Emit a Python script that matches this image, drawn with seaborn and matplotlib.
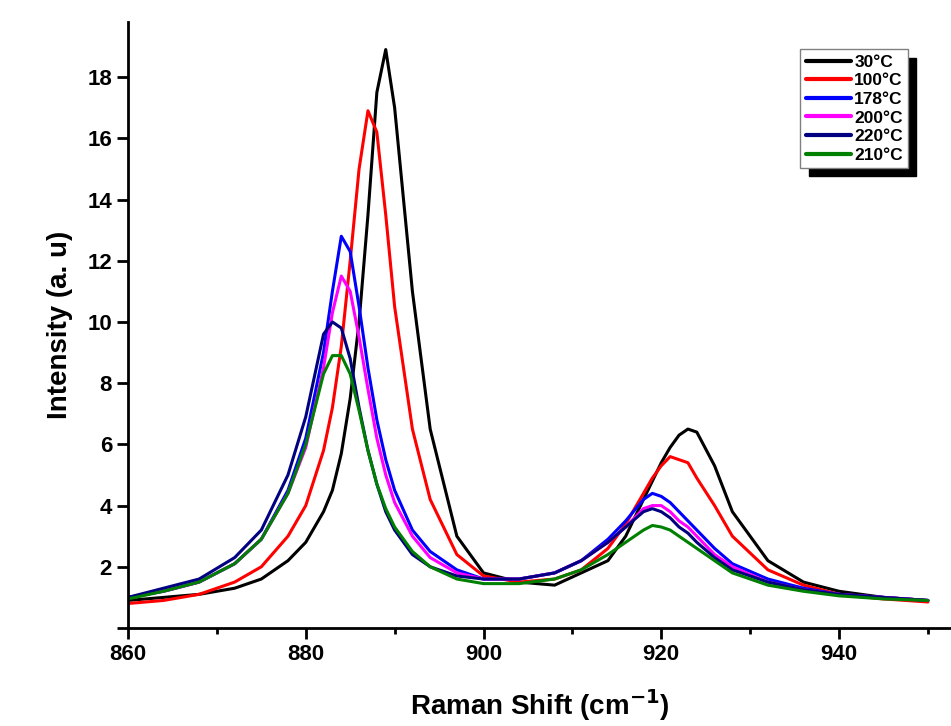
import numpy as np
import pandas as pd
import matplotlib
matplotlib.use("Agg")
import matplotlib.pyplot as plt
import seaborn as sns
from matplotlib.ticker import MultipleLocator

# Raman shift grid (cm^-1)
shift = [860, 864, 868, 872, 875, 878, 880, 882, 883, 884, 885, 886, 887, 888, 889, 890,
         892, 894, 897, 900, 904, 908, 911, 914, 916, 918, 919, 920, 921, 922, 923, 924,
         926, 928, 932, 936, 940, 945, 950]

# intensities
t30 = [0.9, 1.0, 1.1, 1.3, 1.6, 2.2, 2.8, 3.8, 4.5, 5.7, 7.5, 10, 13.5, 17.5, 18.9, 17,
       11, 6.5, 3, 1.8, 1.5, 1.4, 1.8, 2.2, 3, 4.2, 4.8, 5.4, 5.9, 6.3, 6.5, 6.4,
       5.3, 3.8, 2.2, 1.5, 1.2, 1.0, 0.9]
t100 = [0.8, 0.9, 1.1, 1.5, 2.0, 3.0, 4.0, 5.8, 7.2, 9.2, 12, 15, 16.9, 16.2, 13.5, 10.5,
        6.5, 4.2, 2.4, 1.7, 1.5, 1.6, 1.9, 2.6, 3.4, 4.4, 4.9, 5.3, 5.6, 5.5, 5.4, 4.9,
        4.0, 3.0, 1.9, 1.4, 1.1, 0.95, 0.85]
t178 = [1.0, 1.2, 1.5, 2.1, 2.9, 4.5, 6.2, 9.0, 11.0, 12.8, 12.3, 10.5, 8.5, 6.8, 5.5, 4.5,
        3.2, 2.5, 1.9, 1.6, 1.6, 1.8, 2.2, 2.9, 3.5, 4.2, 4.4, 4.3, 4.1, 3.8, 3.5, 3.2,
        2.6, 2.1, 1.6, 1.3, 1.1, 1.0, 0.9]
t200 = [1.0, 1.2, 1.5, 2.1, 2.9, 4.4, 5.9, 8.5, 10.3, 11.5, 11.0, 9.5, 7.8, 6.2, 5.0, 4.1,
        3.0, 2.3, 1.8, 1.6, 1.6, 1.8, 2.2, 2.8, 3.3, 3.9, 4.0, 4.0, 3.8, 3.5, 3.3, 3.0,
        2.4, 2.0, 1.5, 1.25, 1.1, 1.0, 0.9]
t220 = [1.0, 1.3, 1.6, 2.3, 3.2, 5.0, 6.9, 9.6, 10.0, 9.8, 8.8, 7.2, 5.8, 4.7, 3.8, 3.2,
        2.4, 2.0, 1.7, 1.6, 1.6, 1.8, 2.2, 2.8, 3.3, 3.8, 3.9, 3.8, 3.6, 3.3, 3.1, 2.8,
        2.3, 1.9, 1.5, 1.25, 1.1, 1.0, 0.9]
t210 = [0.95, 1.2, 1.5, 2.1, 2.9, 4.4, 6.0, 8.3, 8.9, 8.9, 8.3, 7.1, 5.8, 4.7, 3.9, 3.3,
        2.5, 2.0, 1.6, 1.45, 1.45, 1.6, 1.9, 2.4, 2.8, 3.2, 3.35, 3.3, 3.2, 3.0, 2.8, 2.6,
        2.2, 1.8, 1.4, 1.2, 1.05, 0.95, 0.9]

labels = ["30°C", "100°C", "178°C", "200°C", "220°C", "210°C"]
colors = ["black", "red", "blue", "magenta", "navy", "green"]
series = [t30, t100, t178, t200, t220, t210]

frames = [pd.DataFrame({"shift": shift, "intensity": s, "temp": lab})
          for s, lab in zip(series, labels)]
df = pd.concat(frames, ignore_index=True)

sns.set_style("white")
plt.rcParams["font.family"] = ["Liberation Sans", "DejaVu Sans"]
plt.rcParams["font.weight"] = "bold"
plt.rcParams["text.color"] = "black"
plt.rcParams["axes.labelcolor"] = "black"
plt.rcParams["xtick.color"] = "black"
plt.rcParams["ytick.color"] = "black"

fig = plt.figure(figsize=(9.51, 7.26), dpi=100)
ax = fig.add_axes([128 / 951, 1 - 628 / 726, 1 - 128 / 951, (628 - 22) / 726])

sns.lineplot(data=df, x="shift", y="intensity", hue="temp", hue_order=labels,
             palette=colors, linewidth=2.2, ax=ax, legend=True)

ax.set_xlim(860, 952.6)
ax.set_ylim(0, 19.8)
ax.xaxis.set_major_locator(MultipleLocator(20))
ax.xaxis.set_minor_locator(MultipleLocator(10))
ax.set_yticks(range(0, 19, 2))
ax.set_yticklabels([""] + [str(v) for v in range(2, 19, 2)])
ax.tick_params(axis="both", which="major", direction="out", length=8, width=2,
               labelsize=16, bottom=True, left=True)
ax.tick_params(axis="x", which="minor", direction="out", length=4, width=2, bottom=True)
for lab in ax.get_xticklabels() + ax.get_yticklabels():
    lab.set_fontweight("bold")

for side in ["top", "right"]:
    ax.spines[side].set_visible(False)
for side in ["left", "bottom"]:
    ax.spines[side].set_linewidth(2)
    ax.spines[side].set_color("black")

ax.set_xlabel("Raman Shift (cm$^{\\mathbf{-1}}$)", fontsize=20, fontweight="bold", labelpad=16)
ax.set_ylabel("Intensity (a. u)", fontsize=20, fontweight="bold", labelpad=10)

leg = ax.legend(loc="upper left", bbox_to_anchor=(0.817, 0.955), frameon=True,
                shadow={"color": "black", "alpha": 1, "ox": 6, "oy": -6}, fancybox=False,
                fontsize=12.5, handlelength=2.6, handletextpad=0.2, labelspacing=0.2,
                borderpad=0.3, borderaxespad=0)
leg.get_frame().set_edgecolor("gray")
for t in leg.get_texts():
    t.set_fontweight("bold")
for h in leg.get_lines():
    h.set_linewidth(3)

fig.savefig("out.png", dpi=100)
